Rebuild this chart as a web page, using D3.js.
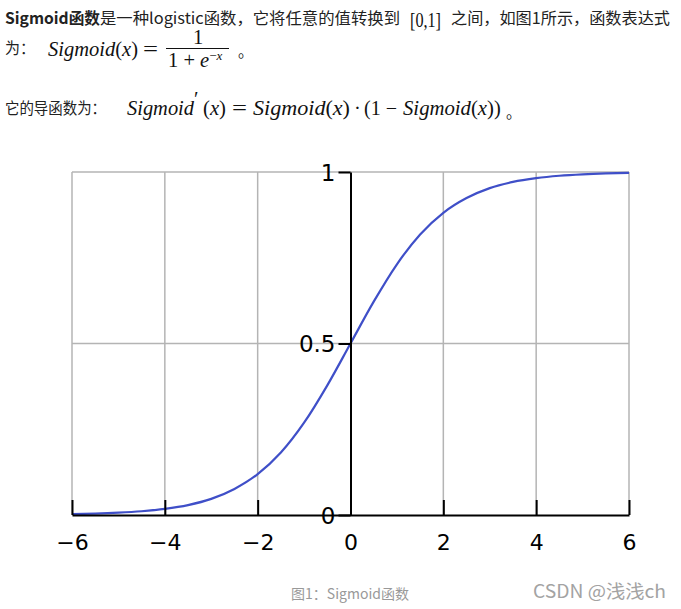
<!DOCTYPE html>
<html lang="zh">
<head>
<meta charset="utf-8">
<title>Sigmoid</title>
<script src="https://d3js.org/d3.v7.min.js"></script>
<style>
  body { margin: 0; background: #fff; }
  svg { display: block; }
  .cn { font-family: "Noto Sans CJK SC", sans-serif; font-size: 15.5px; fill: #222; }
  .m { font-family: "Liberation Serif", serif; font-size: 20.5px; fill: #111; }
  .it { font-style: italic; }
  .tick text { font-family: "DejaVu Sans", sans-serif; }
</style>
</head>
<body>
<div id="chart"></div>
<script>
// values
var xs = [-6, -5.5, -5, -4.5, -4, -3.5, -3, -2.5, -2, -1.5, -1, -0.5, 0,
          0.5, 1, 1.5, 2, 2.5, 3, 3.5, 4, 4.5, 5, 5.5, 6]
var ys = [0.0025, 0.004, 0.0067, 0.011, 0.018, 0.029, 0.047, 0.076, 0.119, 0.182, 0.269, 0.378, 0.5,
          0.622, 0.731, 0.818, 0.881, 0.924, 0.953, 0.971, 0.982, 0.989, 0.9933, 0.996, 0.9975]
var xTicks = [-6, -4, -2, 0, 2, 4, 6]
var yTicks = [0, 0.5, 1]
var xGrid = [-6, -4, -2, 2, 4, 6]
var yGrid = [0.5, 1]

var W = 681, H = 609
var svg = d3.select("#chart").append("svg").attr("width", W).attr("height", H)

// little helper for text pieces, len squeezes/stretches to the measured width
function txt(cls, x, y, s, len) {
  var t = svg.append("text").attr("class", cls).attr("x", x).attr("y", y).text(s)
  if (len) t.attr("textLength", len).attr("lengthAdjust", "spacingAndGlyphs")
  return t
}
// Sigmoid(x) with upright brackets
function sig(x, y, len) {
  var t = svg.append("text").attr("class", "m").attr("x", x).attr("y", y)
    .attr("textLength", len).attr("lengthAdjust", "spacingAndGlyphs")
  t.append("tspan").attr("class", "it").text("Sigmoid")
  t.append("tspan").text("(")
  t.append("tspan").attr("class", "it").text("x")
  t.append("tspan").text(")")
  return t
}

// --- text above the chart ---
txt("cn", 5, 24, "Sigmoid函数", 95).attr("font-weight", "bold")
txt("cn", 100, 24, "是一种logistic函数，它将任意的值转换到", 300)
txt("m", 410, 27, "[0,1]", 31).attr("font-size", 23)
txt("cn", 451, 24, "之间，如图1所示，函数表达式", 219)

txt("cn", 5, 54, "为：", 30)
sig(48, 56, 90)
txt("m", 143, 56, "=", 15)
txt("m", 198, 44, "1").attr("text-anchor", "middle")
svg.append("line").attr("x1", 166).attr("x2", 229).attr("y1", 48.5).attr("y2", 48.5)
  .attr("stroke", "#111").attr("stroke-width", 1)
var den = txt("m", 168, 67, "")
den.append("tspan").text("1 + ")
den.append("tspan").attr("class", "it").text("e")
den.append("tspan").attr("dy", -7).attr("font-size", 13).text("−")
den.append("tspan").attr("font-size", 13).attr("class", "it").text("x")
txt("cn", 238, 57, "。")

txt("cn", 5, 114, "它的导函数为：", 101)
txt("m it", 127, 115, "Sigmoid", 67)
txt("m", 194, 106, "′").attr("font-size", 13)
var dx = txt("m", 203, 115, "", 23)
dx.append("tspan").text("(")
dx.append("tspan").attr("class", "it").text("x")
dx.append("tspan").text(")")
txt("m", 232, 115, "=", 15)
sig(253, 115, 97)
txt("m", 354, 115, "·")
txt("m", 364, 115, "(1 −", 33)
sig(403, 115, 91)
txt("m", 494, 115, ")")
txt("cn", 506, 118, "。")

// --- chart ---
var x = d3.scaleLinear().domain([-6, 6]).range([72, 629])
var y = d3.scaleLinear().domain([0, 1]).range([515, 172])

var grid = svg.append("g").attr("stroke", "#b4b4b4").attr("stroke-width", 1.5)
grid.selectAll(".vg").data(xGrid).enter().append("line")
  .attr("x1", d => x(d)).attr("x2", d => x(d)).attr("y1", y(0)).attr("y2", y(1))
grid.selectAll(".hg").data(yGrid).enter().append("line")
  .attr("x1", x(-6)).attr("x2", x(6)).attr("y1", d => y(d)).attr("y2", d => y(d))

var line = d3.line().x((d, i) => x(xs[i])).y(d => y(d)).curve(d3.curveMonotoneX)
svg.append("path").datum(ys).attr("d", line)
  .attr("fill", "none").attr("stroke", "#3f4fc8").attr("stroke-width", 2.2)

var fmt = d => String(d).replace("-", "−")

var xAxis = svg.append("g").attr("transform", "translate(0," + y(0) + ")")
  .call(d3.axisBottom(x).tickValues(xTicks).tickFormat(fmt).tickSizeInner(-15).tickSizeOuter(0).tickPadding(19))
xAxis.select(".domain").attr("stroke-width", 2)
xAxis.selectAll(".tick line").attr("stroke-width", 2)
xAxis.selectAll(".tick text").attr("font-size", 22).attr("fill", "#000")

var yAxis = svg.append("g").attr("transform", "translate(" + x(0) + ",0)")
  .call(d3.axisLeft(y).tickValues(yTicks).tickFormat(d => String(d)).tickSizeInner(12).tickSizeOuter(0).tickPadding(3))
yAxis.select(".domain").attr("stroke-width", 2)
yAxis.selectAll(".tick line").attr("stroke-width", 2)
yAxis.selectAll(".tick text").attr("font-size", 23).attr("fill", "#000").attr("dy", "0.36em")

// --- caption ---
svg.append("text").attr("x", 350).attr("y", 599).attr("text-anchor", "middle")
  .attr("font-family", "Noto Sans CJK SC").attr("font-size", 14).attr("fill", "#999")
  .text("图1：Sigmoid函数")
svg.append("text").attr("x", 533).attr("y", 598).attr("textLength", 133).attr("lengthAdjust", "spacingAndGlyphs")
  .attr("font-family", "Noto Sans CJK SC").attr("font-size", 18).attr("fill", "#a3a3a3")
  .text("CSDN @浅浅ch")
</script>
</body>
</html>
